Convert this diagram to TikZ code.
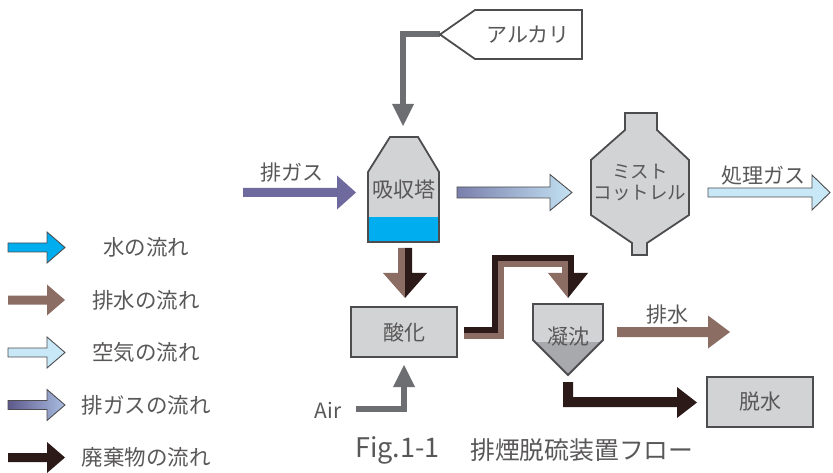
\documentclass[tikz,border=0pt]{standalone}
\usepackage{fontspec}
\setmainfont{Noto Sans CJK JP}
\definecolor{txt}{HTML}{595757}
\definecolor{edge}{HTML}{4D4D4F}
\definecolor{boxfill}{HTML}{D1D3D4}
\definecolor{boxdark}{HTML}{A7A9AC}
\definecolor{water}{HTML}{00AEEF}
\definecolor{brownw}{HTML}{8C6D64}
\definecolor{airc}{HTML}{C8E8F7}
\definecolor{gasp}{HTML}{6E6A9E}
\definecolor{waste}{HTML}{2B1A17}
\definecolor{pipe}{HTML}{6D6E71}
\definecolor{gradL}{HTML}{7A7FAC}
\definecolor{gradR}{HTML}{C3E2F3}
\definecolor{legL}{HTML}{5E598C}
\definecolor{legR}{HTML}{A9BDE0}
\newcommand\fatarrow[7]{\path[#1] (#2,#5-#6) -- (#3,#5-#6) -- (#3,#5-#7) -- (#4,#5) -- (#3,#5+#7) -- (#3,#5+#6) -- (#2,#5+#6) -- cycle;}
\begin{document}
\begin{tikzpicture}[x=1pt,y=-1pt,line join=miter,
  lbl/.style={text=txt,font=\fontsize{21}{25}\selectfont,inner sep=0pt},
  leg/.style={text=txt,font=\fontsize{21.5}{25}\selectfont,inner sep=0pt},
  unit/.style={draw=edge,line width=1.8pt,fill=boxfill},
  outl/.style={draw=edge,line width=0.9pt},
  pipeline/.style={pipe,line width=6pt}]
\path[use as bounding box] (0,0) rectangle (833,473);

% legend
\fatarrow{fill=water,outl}{8}{47}{65}{247.5}{4.5}{15.5}
\node[leg] (lg1) at (146,247.5) {水の流れ};
\fatarrow{fill=brownw}{8}{47}{65}{300}{4.5}{15.5}
\node[leg] (lg2) at (146,300) {排水の流れ};
\fatarrow{fill=airc,outl}{8}{47}{65}{352.5}{4.5}{15.5}
\node[leg] (lg3) at (146,352.5) {空気の流れ};
\fatarrow{left color=legL,right color=legR,outl}{8}{47}{65}{405}{4.5}{15.5}
\node[leg] (lg4) at (146,405) {排ガスの流れ};
\fatarrow{fill=waste}{8}{47}{65}{457.5}{4.5}{15.5}
\node[leg] (lg5) at (146,457.5) {廃棄物の流れ};

% exhaust gas in
\fatarrow{fill=gasp}{243}{337}{356}{192.5}{4.5}{17}
\node[lbl] (exh) at (292,173) {排ガス};

% alkali
\draw[pipeline] (440,34.5) -- (403,34.5) -- (403,105);
\fill[pipe] (392,104) -- (414,104) -- (403,126) -- cycle;
\draw[draw=edge,line width=1.8pt,fill=white] (440,34.5) -- (475,10) -- (582,10) -- (582,59) -- (475,59) -- cycle;
\node[lbl] (alk) at (528,34.5) {アルカリ};

% absorber
\fill[boxfill] (390,137) -- (418,137) -- (439,172) -- (439,242) -- (368,242) -- (368,172) -- cycle;
\fill[water] (368,217) rectangle (439,242);
\draw[edge,line width=1.8pt] (390,137) -- (418,137) -- (439,172) -- (439,242) -- (368,242) -- (368,172) -- cycle;
\node[lbl] (abs) at (403.5,190) {吸収塔};

% gradient arrow
\fatarrow{left color=gradL,right color=gradR,outl}{457}{550}{572}{192.5}{5.5}{18}

% mist cottrell
\path[unit] (625,113) -- (657,113) -- (657,130) -- (689,160) -- (689,215) -- (647,243) -- (647,255) -- (632,255) -- (632,243) -- (591,215) -- (591,160) -- (625,130) -- cycle;
\node[lbl,align=center,font=\fontsize{18.5}{21}\selectfont] (mist) at (640,182.5) {ミスト\\コットレル};

% treated gas
\fatarrow{fill=airc,outl}{708}{812}{830}{192.5}{4.5}{17.5}
\node[lbl] (tg) at (763,176) {処理ガス};

% absorber -> oxidation
\fill[brownw] (405,248) -- (398,248) -- (398,273) -- (383,273) -- (405,298) -- cycle;
\fill[waste] (405,248) -- (412,248) -- (412,273) -- (427,273) -- (405,298) -- cycle;

% oxidation
\node[unit,lbl,minimum width=106pt,minimum height=50pt] (ox) at (404,332) {酸化};

% pipe oxidation -> precipitation
\draw[waste,line width=6pt] (ox.east |- 0,330) ++(6,0) -- (495,330) -- (495,258) -- (571,258) -- (571,273.5);
\draw[brownw,line width=6pt] (ox.east |- 0,336) ++(6,0) -- (501,336) -- (501,264) -- (565,264) -- (565,273.5);
\fill[brownw] (568,273) -- (548,273) -- (568,298) -- cycle;
\fill[waste] (568,273) -- (588,273) -- (568,298) -- cycle;

% precipitation
\fill[boxfill] (533,304) -- (603,304) -- (603,340) -- (568,375) -- (533,340) -- cycle;
\begin{scope}
\clip (533,304) -- (603,304) -- (603,340) -- (568,375) -- (533,340) -- cycle;
\fill[boxdark] (520,342) rectangle (620,380);
\end{scope}
\draw[edge,line width=1.8pt] (533,304) -- (603,304) -- (603,340) -- (568,375) -- (533,340) -- cycle;
\node[lbl] (prec) at (568,337) {凝沈};

% waste water out
\fatarrow{fill=brownw}{617}{708}{730}{332}{5}{16.5}
\node[lbl] (ww) at (667,315) {排水};

% sludge -> dewatering
\fill[waste] (563,382) -- (573,382) -- (573,397) -- (677,397) -- (677,387) -- (697,402.5) -- (677,418) -- (677,407) -- (563,407) -- cycle;
\node[unit,lbl,minimum width=106pt,minimum height=50pt] (dw) at (760,402) {脱水};

% air
\draw[pipeline] (356,409) -- (404,409) -- (404,386);
\fill[pipe] (393,387) -- (415,387) -- (404,365) -- cycle;
\node[lbl] (air) at (328,410) {Air};

% caption
\node[lbl,font=\fontsize{27}{30}\selectfont,anchor=west] (cap1) at (355,450) {Fig.1-1};
\node[lbl,font=\fontsize{24.8}{30}\selectfont,anchor=west] (cap2) at (470,450) {排煙脱硫装置フロー};
\end{tikzpicture}
\end{document}
